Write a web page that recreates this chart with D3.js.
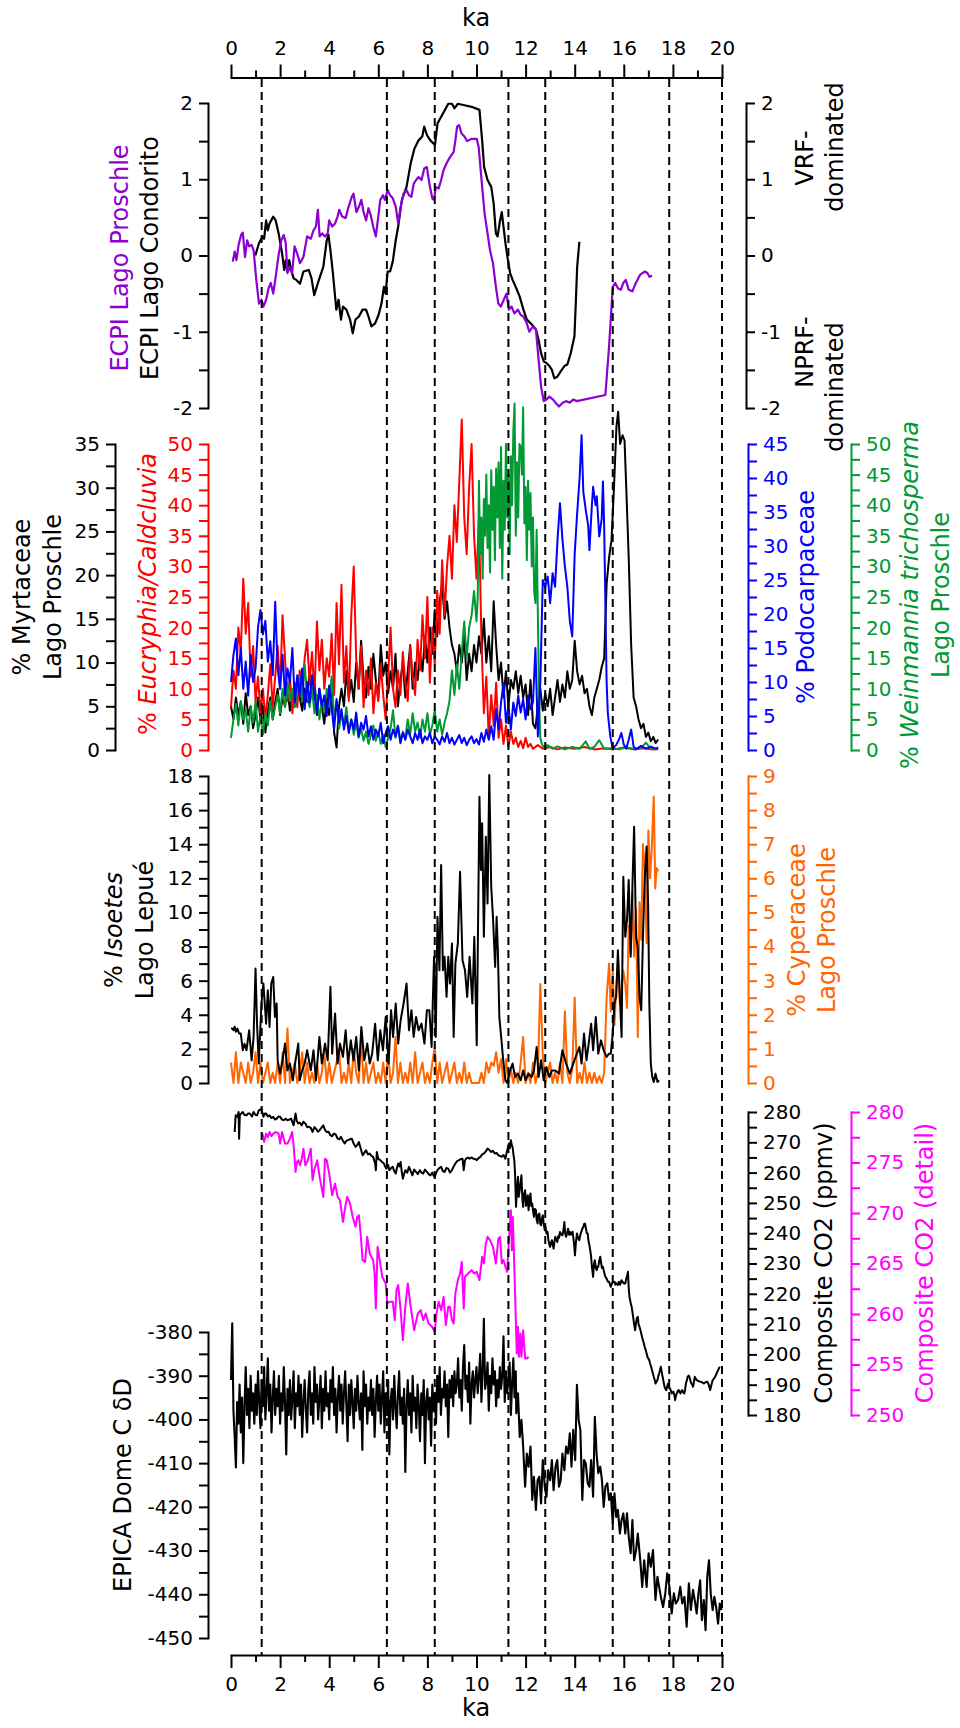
<!DOCTYPE html>
<html><head><meta charset="utf-8">
<script src="https://cdn.jsdelivr.net/npm/d3@7"></script>
<style>
body{margin:0;background:#fff}
svg{display:block}
text{font-family:"DejaVu Sans",sans-serif}
</style></head><body>
<svg id="c" width="960" height="1728"></svg>
<script>
// ---------------- tick labels ----------------
const kaTicks = [0,2,4,6,8,10,12,14,16,18,20];
const ecpiTicks = [-2,-1,0,1,2];
const myrTicks = [0,5,10,15,20,25,30,35];
const eucTicks = [0,5,10,15,20,25,30,35,40,45,50];
const podTicks = [0,5,10,15,20,25,30,35,40,45];
const weiTicks = [0,5,10,15,20,25,30,35,40,45,50];
const isoTicks = [0,2,4,6,8,10,12,14,16,18];
const cypTicks = [0,1,2,3,4,5,6,7,8,9];
const co2Ticks = [180,190,200,210,220,230,240,250,260,270,280];
const co2dTicks = [250,255,260,265,270,275,280];
const ddTicks = [-450,-440,-430,-420,-410,-400,-390,-380];
const eventAges = [1.25,6.35,8.3,11.3,12.8,15.55,17.85,20];

// ---------------- series: ECPI ----------------
const ecpiCondorito = [[0.99,0],[1.14,0.16],[1.28,0.25],[1.35,0.22],[1.43,0.46],[1.5,0.33],[1.57,0.42],[1.72,0.51],[1.82,0.46],[1.94,0.29],[2.08,0.03],[2.17,-0.19],[2.23,-0.06],[2.3,-0.21],[2.37,-0.06],[2.45,-0.19],[2.55,-0.3],[2.66,-0.32],[2.81,-0.37],[2.95,-0.21],[3.17,-0.19],[3.28,-0.3],[3.39,-0.52],[3.54,-0.36],[3.76,-0.15],[3.9,0.2],[3.97,0.27],[4.05,0.07],[4.15,-0.23],[4.24,-0.54],[4.29,-0.71],[4.38,-0.58],[4.48,-0.84],[4.56,-0.67],[4.7,-0.71],[4.85,-0.84],[4.96,-1.02],[5.07,-0.84],[5.21,-0.8],[5.36,-0.71],[5.5,-0.71],[5.6,-0.8],[5.72,-0.93],[5.87,-0.89],[6.01,-0.78],[6.13,-0.63],[6.23,-0.41],[6.3,-0.5],[6.38,-0.21],[6.48,-0.21],[6.59,-0.08],[6.71,0.2],[6.81,0.38],[6.96,0.73],[7.15,0.9],[7.32,1.21],[7.47,1.4],[7.64,1.51],[7.79,1.56],[7.87,1.69],[7.98,1.58],[8.12,1.51],[8.31,1.45],[8.41,1.73],[8.56,1.82],[8.7,1.9],[8.85,1.99],[9.0,1.99],[9.1,1.93],[9.24,1.99],[9.51,1.97],[9.8,1.95],[10.12,1.91],[10.16,1.77],[10.23,1.51],[10.31,1.16],[10.45,0.99],[10.6,0.9],[10.7,0.68],[10.79,0.29],[10.86,0.25],[10.96,0.46],[11.03,0.57],[11.1,0.38],[11.18,0.16],[11.28,-0.06],[11.37,-0.23],[11.47,-0.32],[11.62,-0.43],[11.76,-0.54],[11.91,-0.71],[12.05,-0.84],[12.27,-0.91],[12.42,-0.97],[12.53,-1.11],[12.63,-1.28],[12.74,-1.39],[12.85,-1.41],[12.97,-1.45],[13.07,-1.5],[13.17,-1.61],[13.29,-1.59],[13.43,-1.52],[13.58,-1.45],[13.7,-1.43],[13.84,-1.28],[13.99,-1.06],[14.05,-0.58],[14.1,-0.15],[14.19,0.18]];
const ecpiProschle = [[0.07,-0.08],[0.15,0.05],[0.22,-0.06],[0.31,0.14],[0.41,0.27],[0.48,0.3],[0.57,-0.02],[0.66,0.2],[0.74,0.12],[0.84,0.14],[0.92,0.07],[1.03,-0.32],[1.14,-0.63],[1.24,-0.58],[1.32,-0.67],[1.43,-0.58],[1.53,-0.43],[1.62,-0.36],[1.72,-0.5],[1.82,-0.28],[1.94,0.01],[2.05,0.2],[2.15,0.27],[2.23,0.16],[2.3,-0.23],[2.37,-0.15],[2.49,-0.23],[2.59,0.12],[2.69,0.03],[2.81,-0.1],[2.95,-0.02],[3.1,0.25],[3.25,0.22],[3.36,0.33],[3.46,0.38],[3.54,0.6],[3.61,0.25],[3.71,0.29],[3.83,0.25],[3.94,0.29],[4.0,0.46],[4.12,0.38],[4.24,0.42],[4.34,0.51],[4.41,0.6],[4.53,0.51],[4.67,0.49],[4.77,0.62],[4.92,0.77],[4.99,0.81],[5.11,0.57],[5.21,0.64],[5.31,0.73],[5.4,0.57],[5.5,0.46],[5.6,0.62],[5.69,0.53],[5.79,0.38],[5.9,0.25],[5.98,0.46],[6.08,0.73],[6.19,0.79],[6.27,0.73],[6.38,0.86],[6.48,0.79],[6.59,0.75],[6.71,0.64],[6.81,0.42],[6.91,0.64],[7.03,0.81],[7.15,0.86],[7.25,0.79],[7.35,0.77],[7.44,0.94],[7.54,0.99],[7.64,1.03],[7.76,0.99],[7.87,1.14],[7.98,1.16],[8.08,0.94],[8.2,0.75],[8.27,0.73],[8.34,0.9],[8.46,0.88],[8.56,0.99],[8.66,1.12],[8.78,1.21],[8.92,1.29],[9.07,1.36],[9.14,1.51],[9.21,1.69],[9.29,1.71],[9.39,1.6],[9.51,1.56],[9.62,1.5],[9.8,1.53],[10.01,1.53],[10.09,1.42],[10.16,1.16],[10.23,0.9],[10.33,0.55],[10.45,0.29],[10.55,0.07],[10.67,-0.1],[10.79,-0.41],[10.89,-0.63],[10.99,-0.67],[11.11,-0.58],[11.22,-0.5],[11.32,-0.71],[11.43,-0.67],[11.54,-0.76],[11.69,-0.71],[11.8,-0.78],[11.91,-0.8],[12.05,-0.89],[12.15,-1.0],[12.3,-0.93],[12.42,-0.97],[12.53,-1.37],[12.63,-1.72],[12.74,-1.91],[12.85,-1.89],[12.97,-1.85],[13.12,-1.89],[13.22,-1.93],[13.36,-1.98],[13.51,-1.93],[13.65,-1.91],[13.8,-1.93],[13.94,-1.89],[14.09,-1.91],[15.25,-1.83],[15.4,-1.19],[15.55,-0.41],[15.65,-0.36],[15.76,-0.43],[15.88,-0.45],[15.98,-0.36],[16.08,-0.32],[16.2,-0.45],[16.35,-0.47],[16.49,-0.36],[16.67,-0.25],[16.86,-0.21],[16.96,-0.23],[17.05,-0.28],[17.15,-0.26]];

// ---------------- series: pollen (Lago Proschle), sampled every 0.1 ka from 0 ka, then tails ----------------
const pollenStep = 0.1;
const eucryphiaVals = [7,13,10,20,16,28,19,24,12,17, 8,12,6,10,5,9,14,7,12,17, 10,22,15,8,12,6,11,7,13,9, 15,18,11,16,9,21,13,18,10,15, 12,19,9,24,14,27,11,17,8,22, 30,15,10,17,7,13,9,15,6,11, 8,14,9,5,12,20,10,7,13,9, 16,11,8,17,12,9,18,13,22,15, 25,11,20,14,26,19,31,22,30,35, 28,40,34,44,54,38,32,43,50,35, 28,38,18,6,12,2,9,4,11,2, 5,1,4,0.5,3,1,2,0.5,1.5,0.3, 2];
const eucryphiaTail = [[12.1,0.5],[12.2,1],[12.3,0.2],[12.5,0.8],[12.7,0.2],[13.0,0.5],[13.3,0.1],[13.6,0.4],[14.0,0.2],[14.4,0.5],[14.8,0.1],[15.2,0.3],[15.6,0.1],[16.0,0.4],[16.4,0.1],[16.8,0.3],[17.2,0.1],[17.4,0.2]];
const myrtaceaeVals = [5,3.5,6,4,5.5,3,6.5,4,5,2.5, 4,6,3.5,5,2,4.5,6,3.5,5.5,7, 4,6,5,7,4.5,6.5,5,8,6,4.5, 7,5.5,9,6,8,4,7,5,3,6, 4,8,2,0.3,5,7,5,9,6,8, 5.5,10,7,12.5,8,6,9.5,7,11,8, 6,12,8.5,10,6.5,9,7,11,5,8, 10,6,9,12,7,10,8,11,9,13, 10,14,11,16,13,17,19,15,17,14, 12,11,9,12,10,13,8,11,9,12, 10,13,11,15,10,13,9,17,12,8, 10,6,9,5,8,7,9,6.5,8.5,6, 7.5,4,8,3,2.5,5,7,4.5,6.5,5, 7,4,6,8,5.5,7.5,6,9,7,8, 12.5,9,7.5,8.5,6.5,7,5,4,6,7, 8,9.5,10.5];
const myrtaceaeTail = [[15.3,19],[15.4,22],[15.5,24],[15.6,30],[15.7,37],[15.77,38.7],[15.85,35],[15.95,36],[16.03,35.4],[16.1,30],[16.2,22],[16.3,12],[16.4,6],[16.5,5],[16.6,3.5],[16.7,2.5],[16.8,3],[16.9,1.5],[17.0,2],[17.1,1],[17.2,1.5],[17.3,0.8],[17.4,1.2]];
const podocarpVals = [10,14,16.4,11,15,9,13,8,14,10, 12,18,20.6,17,19,13,16,11,21.8,12, 9,14,8,12,10,15,7,11,8,12, 6,10,7,11,8,5.5,9,6.5,8,5, 9.5,6,3,7.5,4,6,3,5,2.5,4.5, 3,5.5,2,4,3,5,2,3.5,1.5,3, 2,4,1,2.5,3.5,1.5,3,2,3.5,1, 2.5,1.5,3,2,1,2.5,1.5,3,1,2, 1.5,2.5,1,2,1.5,0.8,2,1.2,2.5,1, 1.8,0.8,1.5,2.2,1,1.8,0.7,1.5,2,1, 1.6,0.8,2.5,1.2,3,1.5,3.5,1.5,6,3, 7,9.8,4,6.5,3,7,5,8,5.5,7.5, 4.5,8,6,7,15,2,10];
const podocarpTail = [[12.7,25],[12.8,24],[12.9,25.5],[13.0,21.6],[13.1,26],[13.2,24],[13.3,30.9],[13.4,36.3],[13.5,31],[13.6,27],[13.7,24],[13.8,19],[13.9,16.7],[14.0,28.9],[14.1,34.8],[14.2,40],[14.28,46.3],[14.35,38],[14.45,35.3],[14.55,33],[14.6,29.4],[14.7,36],[14.75,38.7],[14.85,36],[14.9,37.3],[15.0,31.4],[15.1,34],[15.15,39.5],[15.2,33],[15.3,10],[15.35,5.4],[15.45,2],[15.55,0.2],[15.7,0.8],[15.8,1.5],[15.9,2.5],[16.0,0.8],[16.1,0.2],[16.2,1.5],[16.3,3],[16.4,0.5],[16.5,0.1],[16.7,0.6],[16.9,0.2],[17.1,0.5],[17.3,0.2],[17.4,0.4]];
const weinmanniaVals = [2,5,7.5,4,8,5,6.5,3,7,4.5, 8,3,5.5,2.5,6,4,8,5,7,9, 6,10,7,11,8,10,7,9.5,12,8, 14,9,7,10,6,9,5,8,6.5,10, 7,12,5,8,3.5,6,4,7,3,5, 2.5,4.5,2,3.5,1.5,3,1,2.5,4,1.5, 3,1,2.5,0.5,2,3.5,6.5,2,4,1.5, 3,2,5,2.5,6,3,4.5,2,5,3, 6,2.5,4,6.5,3,5,2.5,4.5,6,8, 13,9,14,10,16,21,15,20,22,26];
const weinmanniaTail = [[10.0,21],[10.05,25],[10.1,44],[10.15,32],[10.2,38],[10.25,28],[10.3,41],[10.35,35],[10.4,45],[10.45,33],[10.5,40],[10.55,29],[10.6,45.7],[10.65,36],[10.7,43],[10.75,31],[10.8,46],[10.85,38],[10.9,47],[10.95,33],[11.0,49.5],[11.05,28],[11.1,44],[11.15,36],[11.2,50],[11.25,38],[11.3,45],[11.35,32],[11.4,48],[11.45,40],[11.5,52],[11.55,56.6],[11.6,35],[11.65,47],[11.7,38],[11.75,50],[11.8,49.5],[11.85,45],[11.9,56],[11.95,37],[12.0,43],[12.05,31],[12.1,44],[12.15,36],[12.2,42],[12.25,30],[12.3,38],[12.35,26],[12.4,24],[12.45,36],[12.5,22],[12.55,8],[12.6,2],[12.66,1],[12.75,0.3],[12.9,0.8],[13.1,0.2],[13.3,0.6],[13.6,0.1],[13.9,0.5],[14.2,0.2],[14.45,1.4],[14.6,0.2],[14.8,0.5],[15.0,1.6],[15.2,0.2],[15.5,0.3],[15.8,0.1],[16.1,0.4],[16.4,0.2],[16.7,0.3],[16.9,1.2],[17.1,0.2],[17.4,0.1]];

// ---------------- series: Isoetes (Lago Lepué) & Cyperaceae (Lago Proschle) ----------------
const isoetes = [[0,3.19],[0.05,3.2],[0.1,3.1],[0.15,3.3],[0.2,3.0],[0.26,3.19],[0.33,2.9],[0.4,2.9],[0.48,1.92],[0.55,2.3],[0.63,1.92],[0.74,3.09],[0.84,1.33],[0.92,2.7],[1.0,6.71],[1.06,3.48],[1.13,1.14],[1.24,4.66],[1.32,5.83],[1.43,3.48],[1.5,5.44],[1.57,3.29],[1.64,5.83],[1.72,6.22],[1.79,3.87],[1.86,4.66],[1.9,1.33],[2.0,0.55],[2.1,1.33],[2.2,2.31],[2.3,0.74],[2.4,1.14],[2.52,0.16],[2.63,1.33],[2.74,2.31],[2.8,0.16],[2.9,0.74],[3.0,1.14],[3.1,1.92],[3.25,0.74],[3.36,1.92],[3.46,0.16],[3.6,2.7],[3.7,1.14],[3.83,2.31],[3.94,1.33],[4.05,5.64],[4.12,1.72],[4.24,4.07],[4.34,1.14],[4.44,2.31],[4.56,1.53],[4.67,3.09],[4.77,1.14],[4.88,2.5],[4.99,1.33],[5.1,2.7],[5.21,0.74],[5.31,3.29],[5.43,1.33],[5.55,2.31],[5.65,1.14],[5.75,1.72],[5.87,3.48],[5.98,1.33],[6.08,3.09],[6.19,1.92],[6.3,3.87],[6.42,1.14],[6.52,4.27],[6.6,2.7],[6.71,4.66],[6.81,2.31],[6.91,3.68],[7.03,4.66],[7.15,5.83],[7.25,3.09],[7.35,4.27],[7.44,2.7],[7.54,3.87],[7.64,3.09],[7.76,3.48],[7.88,2.31],[7.98,4.27],[8.08,4.27],[8.17,2.11],[8.27,7.4],[8.34,2.7],[8.41,9.75],[8.49,6.61],[8.56,12.78],[8.63,6.61],[8.7,7.4],[8.78,5.05],[8.85,7.4],[8.92,5.83],[9.0,8.18],[9.07,2.7],[9.14,7.0],[9.24,8.18],[9.33,12.39],[9.43,7.2],[9.53,6.61],[9.62,5.05],[9.72,7.4],[9.83,4.66],[9.91,8.57],[10.01,2.21],[10.12,16.79],[10.18,12.49],[10.23,15.23],[10.3,8.57],[10.38,14.44],[10.45,10.53],[10.52,18.06],[10.6,11.51],[10.67,9.75],[10.76,6.81],[10.82,9.75],[10.87,7.79],[10.93,3.87],[11.03,2.31],[11.1,1.14],[11.18,0.16],[11.25,0],[11.37,0.74],[11.47,1.14],[11.57,0.35],[11.69,0.55],[11.8,0.16],[11.9,0.74],[12.0,0.16],[12.12,0.55],[12.24,0.35],[12.34,0.74],[12.45,2.11],[12.53,0.35],[12.63,1.33],[12.74,0.16],[12.85,0.94],[12.97,0.35],[13.07,0.74],[13.21,0.74],[13.36,0.55],[13.5,1.92],[13.65,1.14],[13.8,0.55],[13.94,1.14],[14.09,1.72],[14.19,2.11],[14.28,1.14],[14.38,2.9],[14.48,1.33],[14.57,2.31],[14.67,3.48],[14.75,1.92],[14.86,3.87],[14.96,1.72],[15.07,2.5],[15.18,1.92],[15.3,1.53],[15.4,1.72],[15.47,1.72],[15.55,2.9],[15.62,4.66],[15.69,5.05],[15.76,7.79],[15.84,5.05],[15.91,2.7],[15.98,12.09],[16.06,8.57],[16.13,9.55],[16.2,11.9],[16.28,7.4],[16.35,11.51],[16.42,15.03],[16.5,8.57],[16.57,7.98],[16.64,5.05],[16.71,4.27],[16.78,8.57],[16.85,11.9],[16.93,13.86],[16.99,10.53],[17.04,4.66],[17.1,1.14],[17.16,0.35],[17.22,0.06],[17.29,0.55],[17.37,0.06],[17.44,0.16]];
const cyperaceaeVals = [0.6,0,0.9,0,0.6,0.3,0,0.6,0,0.3, 0.9,0,0.6,0,0.3,0.6,0,0.3,0,0.6, 0,0.9,0,1.6,0,0.3,0.6,0,0.3,0.9, 0,0.6,0,0.3,0,0.6,0,0.3,0.9,0, 0.6,0,0.3,0.6,1.0,0,0.3,0,0.6,0, 1.0,0.3,0,1.35,0,0.6,0,0.3,0.6,0, 0.3,0,0.6,0,0.9,0,0.3,1.35,0,0.6, 0,0.3,0,0.6,0,0.9,0,0.3,0.6,0, 0.3,0,0.6,1.05,0,0.6,0,0.3,0.6,0, 0.3,0.6,0,0.3,0,0.6,0,0.3,0,0, 0,0,0.3,0,0.6,0.3,0.6,0.5,0.9,0.3, 0.7,0,0.7,0,0.4,0,0.3,0,0.6,1.35, 0,0.3,0,0.6,0,0.3,2.9,0.8,0,0.3, 0.6,0,0.3,0,0.6,0,2.1,0.3,0,0.4, 2.5,0,0.3,0,0.6,0,0.3,0,0.3,0, 0.2,0,0.3];
const cyperaceaeTail = [[15.3,2.5],[15.4,3.5],[15.47,2.1],[15.55,3.3],[15.62,1.7],[15.69,2.8],[15.76,3.5],[15.84,2.3],[15.91,2.8],[15.98,3.3],[16.06,2.9],[16.13,2.2],[16.2,4.6],[16.28,3.8],[16.35,5.6],[16.42,3.7],[16.5,5.1],[16.57,1.35],[16.64,5.3],[16.71,4.2],[16.78,7.0],[16.85,6.3],[16.93,4.1],[17.0,7.4],[17.07,6.0],[17.14,6.9],[17.22,8.4],[17.28,5.7],[17.34,6.3],[17.4,6.2]];

// ---------------- series: CO2 ----------------
const co2Composite = [[0.15,273.4],[0.19,278.9],[0.26,278.4],[0.31,280],[0.33,271.2],[0.36,279],[0.48,280],[0.55,279],[0.63,278.9],[0.7,279.5],[0.77,279.5],[0.85,278.5],[0.92,280],[1.0,279],[1.06,278.9],[1.13,280.5],[1.24,281.1],[1.32,278.4],[1.38,279.5],[1.43,279.5],[1.5,278.5],[1.57,278.9],[1.65,278],[1.72,278.4],[1.8,277.5],[1.86,277.8],[1.93,278.5],[2.0,278.4],[2.08,277.5],[2.15,277.3],[2.22,277.8],[2.3,277.3],[2.38,277.5],[2.45,277.8],[2.55,275.6],[2.63,279.5],[2.68,277],[2.74,276.2],[2.8,276.5],[2.88,275.6],[2.95,276.8],[3.03,276.2],[3.1,275],[3.17,275.1],[3.25,274.8],[3.32,273.4],[3.4,275],[3.46,274.5],[3.54,273.5],[3.61,274],[3.68,274.8],[3.76,275.6],[3.83,274],[3.9,273.4],[3.97,273.5],[4.05,272.3],[4.12,272],[4.19,272.9],[4.27,272.5],[4.34,271.2],[4.41,271],[4.48,271.8],[4.56,270.5],[4.63,269.6],[4.7,270.5],[4.77,270.7],[4.85,271],[4.92,271.2],[5.0,269.5],[5.07,268.5],[5.14,269],[5.21,270.1],[5.28,268],[5.36,265.7],[5.43,266.5],[5.5,267.4],[5.58,266],[5.65,266.3],[5.72,265.5],[5.79,265.2],[5.87,263],[5.9,260.8],[5.94,266.8],[6.0,264.5],[6.08,264.1],[6.15,263.5],[6.23,263],[6.28,262],[6.33,261.3],[6.4,262.5],[6.45,260.8],[6.52,261.5],[6.59,261.9],[6.65,260.5],[6.71,259.7],[6.76,261.5],[6.81,263],[6.86,262],[6.91,263.5],[6.96,260],[7.0,258],[7.05,259.5],[7.1,260.8],[7.18,260],[7.25,261.9],[7.32,260.5],[7.39,259.1],[7.46,261],[7.54,260.2],[7.61,259.5],[7.69,260.8],[7.76,260],[7.83,259.7],[7.9,261],[7.98,260.2],[8.05,259.5],[8.12,259.1],[8.2,260],[8.25,259],[8.3,258.6],[8.36,260],[8.41,260.8],[8.48,261.5],[8.56,261.9],[8.63,260.5],[8.7,260.2],[8.77,261.5],[8.85,261.3],[8.92,260],[9.0,260.8],[9.07,262],[9.14,263],[9.21,263.8],[9.29,264.1],[9.36,264.5],[9.43,264.6],[9.48,260.8],[9.53,264],[9.58,264.6],[9.65,265],[9.72,264.6],[9.8,265],[9.87,264.6],[9.94,264.5],[10.01,264.1],[10.08,264.8],[10.16,265.2],[10.23,266],[10.3,266.3],[10.38,267],[10.45,267.9],[10.52,267.5],[10.6,266.8],[10.67,267.2],[10.74,266.3],[10.82,266.5],[10.89,265.7],[10.96,265.5],[11.03,265.2],[11.1,265.8],[11.18,264.6],[11.25,267.4],[11.32,269.6],[11.36,268],[11.4,270.7],[11.44,269],[11.47,268.5],[11.5,266.3],[11.54,264],[11.57,259.7],[11.61,248.7],[11.65,255],[11.69,258.6],[11.72,252],[11.76,254.2],[11.8,257],[11.83,259.1],[11.87,251],[11.9,248.7],[11.94,253],[11.98,254.2],[12.02,249],[12.05,250.9],[12.09,252.5],[12.12,247.6],[12.16,251],[12.2,253.1],[12.23,249],[12.27,249.8],[12.31,247],[12.34,245.4],[12.38,248],[12.42,247.6],[12.45,244.5],[12.49,243.2],[12.52,246],[12.56,246.5],[12.6,243],[12.63,242.6],[12.67,245],[12.7,245.9],[12.74,243],[12.78,241],[12.81,242],[12.85,239.9],[12.89,240.5],[12.93,237.7],[12.96,236.5],[13.0,235.5],[13.04,237],[13.07,237.7],[13.11,236],[13.14,234.9],[13.18,237.5],[13.21,238.8],[13.25,238],[13.29,237.1],[13.33,239],[13.36,238.5],[13.4,240.4],[13.45,239.5],[13.5,239.3],[13.54,241],[13.58,243.7],[13.61,240],[13.65,238.8],[13.69,240],[13.73,241.5],[13.77,239.5],[13.8,240.5],[13.84,239.5],[13.87,239.9],[13.91,240.5],[13.94,238.8],[13.98,236],[14.01,232.7],[14.05,237],[14.09,239.9],[14.12,239],[14.16,238],[14.19,237.7],[14.23,239.5],[14.27,240.5],[14.31,241.5],[14.35,242],[14.38,243],[14.42,243.2],[14.46,241.5],[14.49,240],[14.53,239.9],[14.56,237.5],[14.6,236],[14.64,234],[14.67,232.2],[14.7,229],[14.75,225.6],[14.78,229.5],[14.82,231.1],[14.86,228.5],[14.9,227.8],[14.93,229],[14.96,228.9],[15.0,231],[15.04,232.2],[15.08,230],[15.11,228.5],[15.15,228.9],[15.2,227],[15.25,225.6],[15.3,225],[15.35,224],[15.4,224],[15.44,223],[15.47,222.3],[15.52,223.5],[15.57,224],[15.62,224],[15.66,223],[15.7,223.5],[15.76,222.9],[15.8,224],[15.85,223],[15.91,224.5],[15.96,223.8],[16.01,223.4],[16.06,223.4],[16.1,225],[16.14,226],[16.17,227.3],[16.2,222],[16.23,219],[16.28,217],[16.32,215.7],[16.35,214],[16.38,212.4],[16.42,210],[16.46,208],[16.5,210.5],[16.53,212],[16.57,212.4],[16.6,210],[16.64,209.1],[16.68,208],[16.71,206.9],[16.75,205.5],[16.78,204.7],[16.82,203.5],[16.85,202.5],[16.89,201.5],[16.93,200.3],[16.97,199],[17.0,198.7],[17.04,198],[17.07,197],[17.11,196],[17.15,194.8],[17.19,193.5],[17.22,192.6],[17.26,191.5],[17.29,190.4],[17.33,191],[17.37,191.5],[17.41,193],[17.44,193.7],[17.48,195],[17.51,195.9],[17.55,194],[17.58,192.6],[17.62,191],[17.66,189.3],[17.7,188.5],[17.73,188.2],[17.77,189.5],[17.8,190.4],[17.84,189],[17.88,188.8],[17.92,188],[17.95,187.1],[17.99,187.5],[18.02,187.7],[18.06,186.5],[18.09,184.9],[18.13,186.5],[18.16,187.1],[18.2,188],[18.24,188.2],[18.27,187.5],[18.31,187.1],[18.35,188],[18.38,188.2],[18.42,187.5],[18.46,187.1],[18.5,188.5],[18.53,190.4],[18.57,191.5],[18.6,192.6],[18.64,193],[18.67,192.6],[18.71,191.5],[18.75,190.4],[18.79,190],[18.82,189.3],[18.86,191],[18.89,192.6],[18.93,192],[18.97,191.5],[19.04,191.2],[19.11,191],[19.19,190.8],[19.26,190.4],[19.33,190.8],[19.4,191],[19.46,190],[19.52,188.2],[19.57,190],[19.62,191.5],[19.67,192],[19.72,192.6],[19.78,193.7],[19.84,194.8],[19.91,195.9]];
const co2Detail = [[1.28,277.86],[1.35,277.03],[1.43,277.86],[1.5,277.5],[1.57,278.02],[1.65,277.6],[1.72,277.86],[1.82,278.02],[1.94,277.86],[2.0,276.87],[2.08,278.02],[2.2,276.87],[2.3,276.87],[2.4,277.36],[2.49,278.02],[2.55,276.7],[2.63,274.07],[2.68,275],[2.74,275.22],[2.81,274.72],[2.88,275.38],[2.95,276.37],[3.03,274.72],[3.13,275.22],[3.25,276.37],[3.32,273.24],[3.39,274.23],[3.51,275.22],[3.61,273.57],[3.76,271.59],[3.83,275.38],[3.9,275.22],[4.0,273.9],[4.12,271.76],[4.24,272.91],[4.34,271.59],[4.44,271.26],[4.56,269.12],[4.63,270.27],[4.73,271.59],[4.85,270.93],[4.96,269.61],[5.07,268.63],[5.14,269.61],[5.21,269.78],[5.28,267.97],[5.36,265.33],[5.46,265.16],[5.55,267.64],[5.65,265.99],[5.79,265.33],[5.85,264],[5.9,260.55],[5.97,266.65],[6.06,265.33],[6.16,263.68],[6.3,263.02],[6.37,261.04],[6.45,261.21],[6.59,261.21],[6.67,259.39],[6.74,262.36],[6.81,262.86],[6.91,260.38],[7.0,257.42],[7.1,260.71],[7.2,263.02],[7.32,260.71],[7.46,258.4],[7.61,260.05],[7.73,260.38],[7.83,259.39],[7.93,260.05],[8.05,259.06],[8.19,258.73],[8.3,258.24],[8.37,260.05],[8.46,261.21],[8.56,260.38],[8.66,261.7],[8.75,258.9],[8.85,260.71],[8.92,260.71],[9.0,259.39],[9.07,259.06],[9.14,262.03],[9.24,263.35],[9.33,264.01],[9.4,265.16],[9.48,260.55],[9.53,263.68],[9.65,264.01],[9.8,264.34],[9.91,264.01],[10.01,264.17],[10.12,263.35],[10.23,265.66],[10.3,265],[10.38,266.98],[10.45,267.64],[10.55,267.31],[10.67,266.65],[10.79,265],[10.89,267.47],[10.96,267.64],[11.03,265],[11.1,265.33],[11.18,264.67],[11.25,264.17],[11.32,267.31],[11.4,270.27],[11.44,266.32],[11.48,269.61],[11.54,264.67],[11.58,261.37],[11.64,256.1],[11.69,258.73],[11.73,255.77],[11.79,258.07],[11.83,255.77],[11.9,258.4],[11.98,255.6],[12.05,255.6],[12.12,255.77]];

// ---------------- series: EPICA Dome C dD (every 0.05 ka to 11.6 ka, then irregular) ----------------
const ddStep = 0.05;
const ddVals = [
-391,-378,-398,-404,-411,-396,-401,-392,-403,-395,-410,-397,-388,-399,-393,-402,-390,-398,-394,-401,
-392,-399,-389,-396,-402,-391,-397,-388,-400,-394,-386,-398,-392,-403,-395,-389,-399,-393,-397,-390,
-401,-394,-398,-388,-396,-408,-393,-399,-391,-400,-395,-389,-402,-394,-397,-390,-399,-392,-404,-396,
-391,-398,-403,-393,-389,-399,-394,-401,-388,-396,-392,-400,-395,-390,-402,-393,-398,-389,-397,-394,
-400,-391,-396,-388,-399,-393,-403,-395,-390,-398,-392,-401,-394,-389,-397,-405,-392,-399,-391,-396,
-402,-393,-398,-390,-396,-400,-394,-407,-389,-397,-392,-401,-395,-398,-391,-399,-393,-404,-396,-390,
-398,-392,-401,-395,-389,-403,-394,-399,-391,-408,-396,-393,-400,-390,-397,-402,-394,-389,-399,-395,
-401,-393,-412,-397,-391,-399,-394,-403,-390,-398,-395,-402,-392,-397,-405,-394,-399,-391,-410,-396,
-393,-400,-395,-406,-392,-398,-394,-401,-390,-396,-388,-399,-393,-395,-389,-397,-392,-404,-391,-395,
-390,-397,-389,-394,-392,-386,-395,-391,-398,-388,-383,-393,-390,-396,-387,-401,-392,-389,-395,-391,
-388,-394,-390,-385,-396,-389,-377,-393,-391,-387,-398,-390,-394,-386,-392,-389,-397,-391,-395,-388,
-393,-390,-381,-396,-389,-394,-391,-387,-399,-392,-386,-395,-389];
const ddTail = [[11.62,-398.6],[11.69,-394],[11.76,-404],[11.83,-400.1],[11.9,-406.2],[11.98,-415.4],[12.05,-407.8],[12.12,-410.8],[12.2,-406.2],[12.27,-418.4],[12.34,-413.1],[12.42,-420.7],[12.49,-413.9],[12.56,-413.1],[12.63,-419.2],[12.7,-409.3],[12.78,-415.4],[12.85,-417.7],[12.92,-411.6],[13.0,-413.9],[13.07,-409.3],[13.14,-416.2],[13.22,-410.8],[13.29,-409.3],[13.36,-415.4],[13.43,-413.9],[13.5,-407.8],[13.58,-411.6],[13.65,-406.2],[13.73,-407.8],[13.8,-403.2],[13.87,-410.8],[13.94,-402.4],[14.02,-409.3],[14.09,-392.1],[14.16,-400.1],[14.23,-402.4],[14.31,-418.4],[14.38,-409.3],[14.45,-410.1],[14.53,-414.6],[14.6,-415.4],[14.67,-409.3],[14.75,-417.7],[14.82,-399.4],[14.89,-407.8],[14.96,-412.3],[15.04,-410.8],[15.11,-413.9],[15.18,-420],[15.25,-415.4],[15.33,-414.6],[15.4,-418.4],[15.47,-416.9],[15.55,-423.8],[15.62,-416.9],[15.69,-422.3],[15.76,-420.7],[15.84,-426.1],[15.91,-423],[15.98,-421.5],[16.06,-426.1],[16.13,-421.5],[16.2,-426.8],[16.28,-430.6],[16.35,-423],[16.42,-432.2],[16.5,-429.9],[16.57,-426.1],[16.67,-432.2],[16.75,-438.3],[16.83,-432.2],[16.93,-438.3],[17.01,-430.6],[17.1,-433.7],[17.19,-429.9],[17.29,-441.3],[17.37,-436],[17.44,-438.3],[17.51,-440.6],[17.6,-442.9],[17.69,-439.8],[17.77,-435.2],[17.86,-438.3],[17.95,-444.4],[18.04,-439.8],[18.12,-442.1],[18.21,-441.3],[18.3,-438.3],[18.38,-442.1],[18.47,-440.6],[18.56,-447.4],[18.65,-437.5],[18.73,-443.6],[18.82,-439],[18.91,-442.1],[18.97,-444.4],[19.04,-439.8],[19.11,-436.8],[19.18,-445.9],[19.26,-441.3],[19.33,-448.2],[19.4,-436],[19.47,-432.2],[19.54,-439.8],[19.62,-443.6],[19.69,-440.6],[19.76,-442.9],[19.84,-446.7],[19.91,-442.1],[19.98,-443.6]];

// ---------------- drawing ----------------
const svg = d3.select('#c');
const TICK_FS = 20, TITLE_FS = 24;
const C = {purple:'#8c00d2', red:'#ff0000', blue:'#0000ff', green:'#009933', orange:'#ff6600', magenta:'#ff00ff', black:'#000'};

const x = d3.scaleLinear([0,20],[231,722]);
const yEcpi = d3.scaleLinear([-2,2],[408,103]);
const yMyr = d3.scaleLinear([0,35],[750,444]);
const yEuc = d3.scaleLinear([0,50],[750,444]);
const yPod = d3.scaleLinear([0,45],[750,444]);
const yWei = d3.scaleLinear([0,50],[750,444]);
const yIso = d3.scaleLinear([0,18],[1083,776]);
const yCyp = d3.scaleLinear([0,9],[1083,776]);
const yCo2 = d3.scaleLinear([180,280],[1415,1112]);
const yCo2d = d3.scaleLinear([250,280],[1415,1112]);
const yDd = d3.scaleLinear([-450,-380],[1638,1332]);

function withMinors(majors){
  const out = [];
  majors.forEach((m,i)=>{ out.push(m); if(i<majors.length-1) out.push((m+majors[i+1])/2); });
  return out;
}
function styleAxis(g, color){
  g.attr('font-family', null).attr('font-size', null);
  g.select('.domain').attr('stroke', color).attr('stroke-width', 2).attr('stroke-linecap','square');
  g.selectAll('.tick line').attr('stroke', color).attr('stroke-width', 2);
  g.selectAll('.tick text').attr('fill', color).style('font-size', TICK_FS+'px');
}
function yAxis(scale, xpos, side, majors, color){
  const all = withMinors(majors);
  const gen = (side==='left' ? d3.axisLeft(scale) : d3.axisRight(scale))
    .tickValues(all).tickSize(9).tickSizeOuter(0).tickPadding(6)
    .tickFormat(d => majors.includes(d) ? String(d) : '');
  const g = svg.append('g').attr('transform', `translate(${xpos},0)`).call(gen);
  styleAxis(g, color);
}
function xAxis(ypos, top){
  const minors = withMinors(kaTicks).filter(d=>!kaTicks.includes(d));
  const gMaj = (top ? d3.axisTop(x) : d3.axisBottom(x)).tickValues(kaTicks).tickSize(13).tickSizeOuter(0)
      .tickPadding(top ? 10 : 9).tickFormat(d=>String(d));
  const gMin = (top ? d3.axisTop(x) : d3.axisBottom(x)).tickValues(minors).tickSize(7).tickSizeOuter(0).tickFormat('');
  const g1 = svg.append('g').attr('transform', `translate(0,${ypos})`).call(gMaj);
  styleAxis(g1, C.black);
  const g2 = svg.append('g').attr('transform', `translate(0,${ypos})`).call(gMin);
  styleAxis(g2, C.black);
  g2.select('.domain').remove();
}
function vlabel(px, py, parts, color){
  const t = svg.append('text').attr('transform', `translate(${px},${py}) rotate(-90)`)
    .attr('text-anchor','middle').attr('fill', color).style('font-size', TITLE_FS+'px');
  parts.forEach(p => {
    const s = t.append('tspan').text(p[0]);
    if (p[1]) s.style('font-style','italic');
  });
}
function plot(data, ys, color, w){
  svg.append('path').datum(data)
    .attr('d', d3.line().x(d=>x(d[0])).y(d=>ys(d[1])))
    .attr('fill','none').attr('stroke', color).attr('stroke-width', w || 2)
    .attr('stroke-linejoin','round');
}
const regular = (vals, step) => vals.map((v,i) => [Math.round(i*step*1000)/1000, v]);

// x axes
xAxis(77.5, true);
xAxis(1655, false);
svg.append('text').attr('x', 476).attr('y', 26).attr('text-anchor','middle').style('font-size', TITLE_FS+'px').text('ka');
svg.append('text').attr('x', 476).attr('y', 1716).attr('text-anchor','middle').style('font-size', TITLE_FS+'px').text('ka');

// y axes
yAxis(yEcpi, 208, 'left', ecpiTicks, C.black);
yAxis(yEcpi, 746, 'right', ecpiTicks, C.black);
yAxis(yMyr, 115, 'left', myrTicks, C.black);
yAxis(yEuc, 208, 'left', eucTicks, C.red);
yAxis(yPod, 748, 'right', podTicks, C.blue);
yAxis(yWei, 851, 'right', weiTicks, C.green);
yAxis(yIso, 208, 'left', isoTicks, C.black);
yAxis(yCyp, 748, 'right', cypTicks, C.orange);
yAxis(yCo2, 748, 'right', co2Ticks, C.black);
yAxis(yCo2d, 851, 'right', co2dTicks, C.magenta);
yAxis(yDd, 208, 'left', ddTicks, C.black);

// axis titles
vlabel(127.5, 258, [['ECPI Lago Proschle']], C.purple);
vlabel(157.5, 258, [['ECPI Lago Condorito']], C.black);
vlabel(812.5, 158, [['VRF-']], C.black);
vlabel(843, 147, [['dominated']], C.black);
vlabel(812.5, 352, [['NPRF-']], C.black);
vlabel(843, 387, [['dominated']], C.black);
vlabel(29.5, 597, [['% Myrtaceae']], C.black);
vlabel(60.5, 597, [['Lago Proschle']], C.black);
vlabel(155.5, 594, [['% '],['Eucryphia/Caldcluvia',1]], C.red);
vlabel(813.5, 597, [['% Podocarpaceae']], C.blue);
vlabel(917.5, 595, [['% '],['Weinmannia trichosperma',1]], C.green);
vlabel(948.5, 595, [['Lago Proschle']], C.green);
vlabel(121.5, 930, [['% '],['Isoetes',1]], C.black);
vlabel(152.5, 930, [['Lago Lepué']], C.black);
vlabel(804.5, 930, [['% Cyperaceae']], C.orange);
vlabel(834.5, 930, [['Lago Proschle']], C.orange);
vlabel(832, 1263, [['Composite CO2 (ppmv)']], C.black);
vlabel(933, 1263, [['Composite CO2 (detail)']], C.magenta);
vlabel(130.5, 1485, [['EPICA Dome C δD']], C.black);

// data
plot(ecpiCondorito, yEcpi, C.black, 2.2);
plot(ecpiProschle, yEcpi, C.purple, 2.2);

plot(regular(myrtaceaeVals, pollenStep).concat(myrtaceaeTail), yMyr, C.black);
plot(regular(eucryphiaVals, pollenStep).concat(eucryphiaTail), yEuc, C.red);
plot(regular(weinmanniaVals, pollenStep).concat(weinmanniaTail), yWei, C.green);
plot(regular(podocarpVals, pollenStep).concat(podocarpTail), yPod, C.blue);

plot(regular(cyperaceaeVals, pollenStep).concat(cyperaceaeTail), yCyp, C.orange);
plot(isoetes, yIso, C.black);

plot(co2Composite, yCo2, C.black);
plot(co2Detail, yCo2d, C.magenta);
plot(regular(ddVals, ddStep).concat(ddTail), yDd, C.black, 2.1);

// event lines
svg.append('g').selectAll('line').data(eventAges).join('line')
  .attr('x1', d=>x(d)).attr('x2', d=>x(d)).attr('y1', 79).attr('y2', 1655)
  .attr('stroke','#000').attr('stroke-width', 2).attr('stroke-dasharray','8,5');
</script>
</body></html>
